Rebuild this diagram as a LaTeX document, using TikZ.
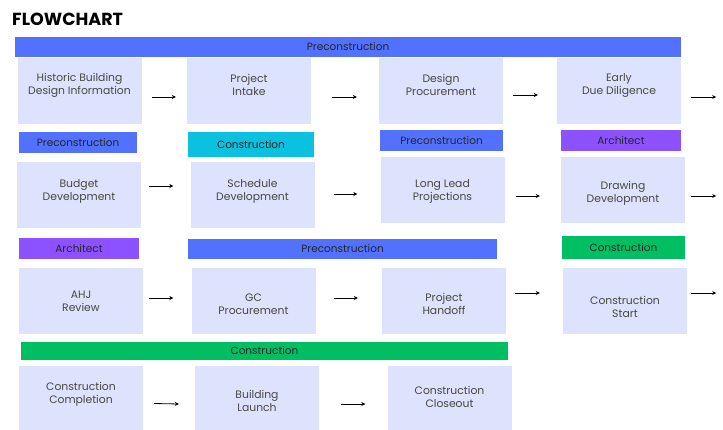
\documentclass[tikz,border=0pt]{standalone}
\usepackage{fontspec}
\setmainfont{Poppins}
\usetikzlibrary{arrows.meta,calc}
\definecolor{preBlue}{HTML}{5271FF}
\definecolor{conCyan}{HTML}{0CC0DF}
\definecolor{conGreen}{HTML}{00BF63}
\definecolor{archPurple}{HTML}{8C52FF}
\definecolor{taskFill}{RGB}{221,227,252}

\begin{document}
\begin{tikzpicture}[x=1pt,y=1pt,
                    stageBar/.style={inner sep=0pt,
                                     minimum height=21pt,
                                     text=black!85,
                                     font=\fontsize{10.5}{12}\selectfont},
                    task/.style={fill=taskFill,
                                 inner sep=0pt,
                                 minimum width=124pt,
                                 minimum height=66pt},
                    taskTxt/.style={align=center,
                                    inner sep=0pt,
                                    yshift=-1.5pt,
                                    text=black!72,
                                    font=\fontsize{10.8}{13}\selectfont},
                    flow/.style={-{Stealth[length=4pt,width=4pt]},
                                 line width=0.8pt}]
            \useasboundingbox (0,0) rectangle (723,-430);
            \node[anchor=west,inner sep=0pt,
                  font=\bfseries\fontsize{17.5}{20}\selectfont](title) at (12,-19) {FLOWCHART};

            % row 1
            \node[stageBar,fill=preBlue,minimum width=666pt,minimum height=20pt](pre1) at (348,-47) {Preconstruction};
            \node[task](hist)   at (79.5,-91) {};
            \node[task](intake) at (249,-91)  {};
            \node[task](dproc)  at (441,-91)  {};
            \node[task](early)  at (619,-91)  {};
            \node[taskTxt](histT)   at ([yshift=7.5]hist.center)   {Historic Building\\Design Information};
            \node[taskTxt](intakeT) at ([yshift=7.5]intake.center) {Project\\Intake};
            \node[taskTxt](dprocT)  at ([yshift=7.5]dproc.center)  {Design\\Procurement};
            \node[taskTxt](earlyT)  at ([yshift=7.5]early.center)  {Early\\Due Diligence};

            % row 2
            \node[stageBar,fill=preBlue,minimum width=118pt](pre2)    at (78,-142.5)  {Preconstruction};
            \node[stageBar,fill=conCyan,minimum width=126pt,minimum height=25pt](con2) at (251,-144.5) {Construction};
            \node[stageBar,fill=preBlue,minimum width=123pt](pre3)    at (441.5,-140.5) {Preconstruction};
            \node[stageBar,fill=archPurple,minimum width=120pt](arch1) at (621,-140.5) {Architect};
            \node[task](budget)  at (79,-195)    {};
            \node[task](sched)   at (252.5,-195) {};
            \node[task](lead)    at (442.5,-190) {};
            \node[task](drawing) at (623,-190)   {};
            \node[taskTxt](budgetT)  at ([yshift=5.5]budget.center) {Budget\\Development};
            \node[taskTxt](schedT)   at ([yshift=5.5]sched.center)  {Schedule\\Development};
            \node[taskTxt](leadT)    at (lead.center)               {Long Lead\\Projections};
            \node[taskTxt](drawingT) at ([yshift=-2]drawing.center) {Drawing\\Development};

            % row 3
            \node[stageBar,fill=archPurple,minimum width=120pt](arch2) at (79,-248.5) {Architect};
            \node[stageBar,fill=preBlue,minimum width=309pt,minimum height=20pt](pre4) at (342.5,-249) {Preconstruction};
            \node[stageBar,fill=conGreen,minimum width=123pt,minimum height=23pt](con3) at (623.5,-247.5) {Construction};
            \node[task](ahj)     at (81,-301)    {};
            \node[task](gc)      at (253.5,-301) {};
            \node[task](handoff) at (444,-301)   {};
            \node[task](start)   at (625,-301)   {};
            \node[taskTxt](ahjT)     at ([yshift=1]ahj.center)      {AHJ\\Review};
            \node[taskTxt](gcT)      at ([yshift=-2]gc.center)      {GC\\Procurement};
            \node[taskTxt](handoffT) at ([yshift=-1]handoff.center) {Project\\Handoff};
            \node[taskTxt](startT)   at ([yshift=-4]start.center)   {Construction\\Start};

            % row 4
            \node[stageBar,fill=conGreen,minimum width=487pt,minimum height=18pt](con4) at (264.5,-351) {Construction};
            \node[task,minimum height=64pt](compl)    at (81,-398)    {};
            \node[task,minimum height=64pt](launch)   at (257,-398)   {};
            \node[task,minimum height=64pt](closeout) at (449.5,-398) {};
            \node[taskTxt](complT)    at ([yshift=5.5]compl.center)    {Construction\\Completion};
            \node[taskTxt](launchT)   at ([yshift=-1]launch.center)    {Building\\Launch};
            \node[taskTxt](closeoutT) at ([yshift=2.5]closeout.center) {Construction\\Closeout};

            % arrows
            \draw[flow] ([shift={(10,-6)}]hist.east)   -- ([shift={(-11,-6)}]intake.west);
            \draw[flow] ([shift={(21,-6)}]intake.east) -- ([shift={(-22,-6)}]dproc.west);
            \draw[flow] ([shift={(10,-4)}]dproc.east)  -- ([shift={(-19,-4)}]early.west);
            \draw[flow] ([shift={(10,-6)}]early.east)  -- ++(25,0);
            \draw[flow] ([shift={(8,9)}]budget.east)   -- ([shift={(-17,9)}]sched.west);
            \draw[flow] ([shift={(19,1)}]sched.east)   -- ([shift={(-23,-4)}]lead.west);
            \draw[flow] ([shift={(11,-6)}]lead.east)   -- ([shift={(-21,-6)}]drawing.west);
            \draw[flow] ([shift={(6,-6)}]drawing.east) -- ++(25,0);
            \draw[flow] ([shift={(6,3)}]ahj.east)      -- ([shift={(-18,3)}]gc.west);
            \draw[flow] ([shift={(18,3)}]gc.east)      -- ([shift={(-24,3)}]handoff.west);
            \draw[flow] ([shift={(9,8)}]handoff.east)  -- ([shift={(-23,8)}]start.west);
            \draw[flow] ([shift={(4,8)}]start.east)    -- ++(25,0);
            \draw[flow] ([shift={(11,-5.5)}]compl.east) -- ([shift={(-16,-6)}]launch.west);
            \draw[flow] ([shift={(22,-6)}]launch.east)  -- ([shift={(-22,-6)}]closeout.west);
        \end{tikzpicture}
\end{document}
